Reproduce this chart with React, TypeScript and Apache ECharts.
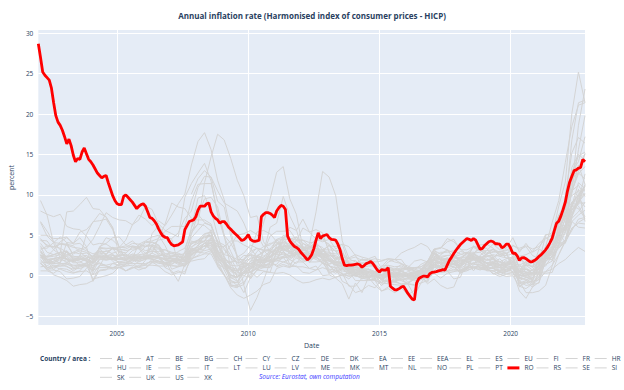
import React, { useEffect, useRef } from 'react';
import * as echarts from 'echarts';

const TITLE = 'Annual inflation rate (Harmonised index of consumer prices - HICP)';
const SOURCE = 'Source: Eurostat, own computation';
const LEGEND_TITLE = 'Country / area :';
const X_NAME = 'Date';
const Y_NAME = 'percent';
const X_TICKS = [2005, 2010, 2015, 2020];
const Y_TICKS = [-5, 0, 5, 10, 15, 20, 25, 30];

const COUNTRIES = ['AL', 'AT', 'BE', 'BG', 'CH', 'CY', 'CZ', 'DE', 'DK', 'EA', 'EE', 'EEA', 'EL', 'ES', 'EU', 'FI', 'FR', 'HR',
  'HU', 'IE', 'IS', 'IT', 'LT', 'LU', 'LV', 'ME', 'MK', 'MT', 'NL', 'NO', 'PL', 'PT', 'RO', 'RS', 'SE', 'SI',
  'SK', 'UK', 'US', 'XK'];

// Romania, monthly, Jan 2002 .. Nov 2022
const RO = [
  28.7, 27.0, 25.2, 24.8, 24.5, 24.2, 23.2, 21.4, 19.8, 19.0, 18.6, 18.0,
  17.2, 16.3, 16.9, 16.1, 14.9, 14.1, 14.5, 14.4, 15.3, 15.8, 15.1, 14.4,
  14.1, 13.7, 13.2, 12.7, 12.4, 12.1, 12.3, 12.4, 11.5, 10.7, 9.9, 9.3,
  8.9, 8.8, 8.8, 9.8, 10.0, 9.7, 9.4, 9.1, 8.7, 8.3, 8.6, 8.8,
  8.9, 8.6, 7.9, 7.2, 7.1, 6.8, 6.4, 5.8, 5.3, 4.9, 4.75, 4.7,
  4.2, 3.85, 3.7, 3.75, 3.8, 4.0, 4.2, 5.7, 6.2, 6.7, 6.8, 6.9,
  7.3, 8.1, 8.6, 8.6, 8.6, 8.9, 9.0, 7.9, 7.4, 7.1, 6.9, 6.5,
  6.7, 6.7, 6.4, 6.0, 5.75, 5.45, 5.2, 4.95, 4.65, 4.35, 4.45, 4.7,
  5.1, 4.5, 4.3, 4.25, 4.3, 4.4, 7.3, 7.6, 7.8, 7.8, 7.7, 7.5,
  7.2, 8.0, 8.4, 8.7, 8.6, 8.2, 4.9, 4.3, 3.95, 3.65, 3.5, 3.3,
  2.9, 2.6, 2.3, 1.95, 2.2, 2.6, 3.35, 4.4, 5.3, 4.6, 4.9, 5.0,
  5.1, 4.7, 4.5, 4.45, 4.4, 3.9, 3.2, 2.1, 1.3, 1.25, 1.3, 1.3,
  1.35, 1.4, 1.45, 1.35, 1.05, 1.25, 1.5, 1.6, 1.75, 1.5, 1.1, 0.7,
  0.45, 0.75, 0.7, 0.7, 1.0, -1.3, -1.55, -1.75, -1.75, -1.6, -1.4, -1.3,
  -1.75, -2.2, -2.55, -2.9, -3.0, -0.9, -0.35, -0.2, -0.05, -0.05, -0.15, 0.25,
  0.4, 0.45, 0.5, 0.6, 0.65, 0.75, 0.7, 1.3, 1.9, 2.3, 2.75, 3.15,
  3.5, 3.85, 4.1, 4.35, 4.6, 4.5, 4.35, 4.6, 4.4, 3.85, 3.3, 3.35,
  3.7, 3.95, 4.2, 4.3, 4.2, 3.95, 3.95, 3.9, 3.45, 3.6, 3.9, 3.9,
  3.4, 2.75, 2.8, 2.45, 1.9, 2.2, 2.25, 2.1, 1.9, 1.7, 1.75, 1.9,
  2.1, 2.4, 2.6, 2.9, 3.2, 3.6, 4.1, 4.65, 5.6, 6.5, 6.75, 7.4,
  8.2, 9.1, 10.5, 11.6, 12.3, 13.0, 13.1, 13.3, 13.4, 14.4, 14.1,
];

const _ = null;
// Other countries, quarterly (Feb, May, Aug, Nov), 2002 .. 2022
const AL = [
  _, _, _, _, _, _, _, _, _, _, _, _, _, _, _, _, _, _, _, _, _, _, _, _,
  4.4, 4.2, 3.0, 2.2, 1.7, 1.6, 2.3, 2.8, 3.8, 3.4, 3.2, 3.1, 3.9, 4.1, 3.0, 2.2,
  2.1, 2.0, 2.6, 2.6, 2.6, 2.0, 2.1, 1.4, 1.5, 2.0, 2.0, 1.7, 1.8, 2.1, 2.0, 2.0,
  0.9, 0.7, 1.4, 1.8, 2.4, 2.0, 2.1, 1.8, 2.1, 1.7, 2.0, 1.8, 1.2, 1.5, 1.3, 1.3,
  1.0, 2.2, 1.2, 1.6, 1.6, 2.2, 2.3, 3.6, 4.2, 6.7, 7.5, 8.1,
];
const AT = [
  1.7, 1.6, 1.5, 1.6, 1.1, 0.8, 1.2, 1.3, 1.5, 2.3, 2.0, 2.5, 2.4, 2.1, 2.0, 1.5,
  1.5, 1.8, 1.8, 1.5, 1.7, 1.9, 1.7, 3.2, 3.1, 3.7, 3.7, 2.3, 1.4, 0.1, -0.2, 0.6,
  1.1, 1.9, 1.9, 1.9, 3.1, 3.7, 3.6, 3.6, 2.6, 2.1, 2.4, 2.8, 2.5, 2.3, 2.1, 1.6,
  1.5, 1.6, 1.6, 1.4, 0.8, 1.0, 0.9, 0.8, 0.9, 0.6, 0.6, 1.3, 2.2, 2.1, 2.1, 2.3,
  1.9, 2.0, 2.1, 2.3, 1.5, 1.7, 1.3, 1.1, 2.4, 0.6, 1.4, 1.1, 1.4, 2.8, 3.2, 4.1,
  5.5, 7.7, 9.3, 11.2,
];
const BE = [
  2.6, 1.0, 1.3, 1.2, 1.4, 1.2, 1.4, 1.5, 1.0, 2.1, 1.9, 2.1, 2.6, 2.5, 2.6, 2.3,
  2.5, 2.5, 2.2, 1.6, 1.8, 1.4, 1.2, 3.1, 3.6, 5.1, 5.4, 3.2, 2.0, -0.2, -0.7, 0.3,
  0.8, 2.3, 2.3, 2.8, 3.5, 3.2, 3.4, 3.8, 3.3, 2.7, 2.6, 2.3, 1.2, 1.0, 1.2, 0.9,
  1.0, 0.8, 0.4, 0.2, -0.4, 0.6, 0.8, 1.4, 1.0, 1.8, 2.0, 1.7, 3.3, 1.9, 2.0, 2.0,
  1.5, 2.3, 2.8, 2.9, 2.2, 1.4, 1.0, 0.5, 1.1, 0.4, 1.0, 0.3, 0.3, 2.3, 4.7, 7.1,
  9.5, 9.9, 10.5, 10.5,
];
const BG = [
  6.7, 5.5, 4.2, 3.2, 2.3, 1.7, 2.4, 5.1, 6.7, 6.8, 7.0, 5.7, 3.5, 4.4, 6.3, 6.9,
  8.6, 8.2, 6.4, 5.6, 5.2, 4.8, 9.7, 11.4, 12.7, 13.9, 11.7, 7.5, 4.8, 3.0, 1.3, 1.0,
  1.7, 3.0, 3.6, 3.8, 4.5, 3.4, 3.0, 2.4, 2.0, 1.8, 2.9, 2.8, 2.1, 1.0, -0.7, -1.1,
  -2.1, -1.8, -1.2, -1.5, -0.5, -0.8, -0.8, -1.0, -1.0, -2.5, -0.9, -0.6, 1.4, 1.2, 1.1, 1.8,
  1.8, 2.1, 3.7, 3.1, 2.6, 3.3, 2.6, 2.5, 2.7, 1.1, 1.3, 0.7, 0.8, 2.4, 2.8, 6.3,
  8.4, 13.4, 15.0, 14.3,
];
const CH = [
  0.6, 0.6, 0.3, 0.9, 0.8, 0.4, 0.5, 0.6, 0.1, 0.6, 0.7, 1.5, 1.3, 0.6, 1.0, 1.1,
  1.3, 1.3, 1.2, 0.5, 0.1, 0.4, 0.5, 2.1, 2.4, 2.7, 2.7, 1.2, 0.0, -0.6, -1.2, -0.1,
  0.9, 0.7, 0.6, 0.4, 0.3, 0.4, 0.1, -0.5, -0.9, -0.8, -0.5, -0.3, -0.5, -0.2, 0.1, 0.0,
  0.0, 0.3, 0.0, 0.0, -0.9, -1.0, -1.1, -1.2, -1.0, -0.4, -0.2, 0.0, 0.6, 0.4, 0.5, 0.8,
  0.6, 0.9, 1.1, 0.9, 0.7, 0.6, 0.2, -0.1, 0.0, -1.3, -0.9, -0.7, -0.5, 0.5, 0.8, 1.5,
  2.0, 2.8, 3.5, 3.0,
];
const CY = [
  2.2, 2.4, 3.2, 4.2, 4.7, 4.0, 4.7, 3.6, 0.5, 2.0, 2.2, 2.1, 2.5, 2.7, 2.1, 2.2,
  2.1, 2.8, 2.4, 1.4, 1.5, 1.8, 2.4, 3.4, 4.4, 5.2, 5.4, 2.9, 1.4, 0.1, -0.2, 1.2,
  2.2, 2.3, 3.1, 2.3, 3.5, 3.6, 3.6, 3.3, 3.1, 3.6, 4.0, 2.0, 1.5, 1.6, 0.3, -1.3,
  -1.3, -0.3, 0.0, -0.6, -1.9, -1.6, -2.1, -1.5, -2.4, -1.8, -0.1, -0.8, 1.1, 0.6, 0.6, -0.4,
  -0.2, 1.8, 0.6, 1.7, 0.6, 0.6, 0.7, 1.0, 0.5, -1.9, -2.8, -1.4, -0.8, 2.1, 3.1, 4.4,
  5.8, 8.8, 9.6, 8.5,
];
const CZ = [
  3.7, 1.9, 0.7, 0.5, -0.4, -0.3, -0.1, 0.9, 2.0, 2.6, 3.1, 2.7, 1.4, 1.2, 1.7, 2.2,
  2.4, 2.3, 2.4, 1.0, 1.7, 2.4, 2.3, 5.1, 7.6, 6.6, 6.2, 4.1, 1.3, 0.9, -0.1, 0.3,
  0.4, 0.9, 1.6, 1.9, 1.9, 1.7, 2.0, 2.6, 4.0, 3.6, 3.4, 2.7, 1.8, 1.3, 1.3, 0.8,
  0.3, 0.4, 0.8, 0.5, 0.1, 0.5, 0.3, 0.1, 0.5, 0.3, 0.6, 1.8, 2.6, 2.4, 2.5, 2.6,
  1.7, 2.1, 2.4, 2.0, 2.7, 3.0, 2.9, 3.1, 3.8, 3.2, 3.6, 2.5, 2.1, 2.8, 3.4, 5.1,
  10.0, 15.2, 17.1, 16.4,
];
const DE = [
  2.0, 1.0, 1.1, 1.2, 1.2, 0.6, 1.1, 1.3, 0.9, 2.1, 2.0, 2.0, 1.7, 1.6, 1.9, 2.1,
  2.1, 2.1, 1.8, 1.5, 1.9, 2.0, 2.0, 3.3, 3.0, 3.1, 3.3, 1.4, 1.0, 0.0, -0.1, 0.3,
  0.5, 1.2, 1.0, 1.6, 2.2, 2.4, 2.5, 2.8, 2.5, 2.2, 2.2, 1.9, 1.8, 1.6, 1.6, 1.6,
  1.0, 0.6, 0.8, 0.5, 0.0, 0.7, 0.1, 0.3, -0.2, 0.0, 0.3, 0.7, 2.2, 1.4, 1.8, 1.8,
  1.2, 2.2, 1.9, 2.2, 1.5, 1.3, 1.0, 1.2, 1.7, 0.5, -0.1, -0.7, 1.6, 2.4, 3.4, 6.0,
  5.5, 8.7, 8.8, 11.3,
];
const DK = [
  2.5, 2.3, 2.4, 2.6, 2.9, 1.9, 1.8, 1.2, 0.7, 1.0, 1.0, 1.0, 1.0, 1.4, 2.2, 1.7,
  2.1, 2.1, 1.8, 1.6, 1.8, 1.6, 1.1, 2.3, 3.1, 3.7, 4.5, 3.0, 1.7, 1.0, 0.8, 1.0,
  1.8, 2.0, 2.1, 2.5, 2.8, 2.9, 2.4, 2.6, 2.8, 2.2, 2.5, 2.2, 0.8, 0.7, 0.2, 0.3,
  0.6, 0.4, 0.5, 0.4, 0.5, 0.8, 0.5, 0.3, 0.0, 0.0, 0.3, 0.3, 1.4, 1.1, 1.4, 1.5,
  0.6, 1.0, 1.0, 0.7, 1.0, 0.2, 0.5, 0.8, 0.5, 0.0, 0.1, 0.2, 0.6, 1.4, 1.8, 3.8,
  5.3, 7.4, 9.9, 11.1,
];
const EA = [
  2.5, 2.0, 2.1, 2.3, 2.1, 1.8, 2.1, 2.2, 1.6, 2.5, 2.3, 2.2, 2.1, 2.0, 2.2, 2.3,
  2.3, 2.5, 2.3, 1.9, 1.8, 1.9, 1.7, 3.1, 3.3, 3.7, 3.8, 2.1, 1.2, 0.0, -0.2, 0.5,
  0.9, 1.6, 1.6, 1.9, 2.4, 2.7, 2.5, 3.0, 2.7, 2.4, 2.6, 2.2, 1.8, 1.4, 1.3, 0.8,
  0.7, 0.5, 0.4, 0.3, -0.1, 0.3, 0.1, 0.2, -0.2, -0.1, 0.2, 0.6, 2.0, 1.4, 1.5, 1.5,
  1.1, 1.9, 2.0, 1.9, 1.5, 1.2, 1.0, 1.0, 1.2, 0.1, -0.2, -0.3, 0.9, 2.0, 3.0, 4.9,
  5.9, 8.1, 9.1, 10.1,
];
const EE = [
  4.4, 4.3, 3.2, 2.6, 2.1, 0.9, 0.9, 1.2, 0.6, 3.6, 4.0, 4.7, 4.8, 3.8, 4.3, 3.6,
  4.2, 4.3, 4.6, 5.5, 6.1, 6.1, 6.1, 9.3, 11.3, 11.4, 11.4, 7.8, 5.0, 0.9, -0.7, -2.1,
  -0.2, 2.5, 2.9, 4.9, 5.5, 5.5, 5.6, 4.4, 4.4, 4.1, 4.1, 3.2, 3.7, 3.6, 3.9, 1.6,
  0.5, 0.9, -0.3, 0.1, -0.5, 0.1, 0.1, 0.1, 0.2, 0.3, 0.8, 1.8, 3.3, 3.4, 4.2, 4.5,
  3.2, 3.2, 3.6, 3.4, 2.4, 2.5, 1.7, 1.4, 2.4, -1.3, -1.6, -1.0, 0.3, 2.8, 5.0, 8.6,
  11.6, 20.1, 25.2, 21.4,
];
const EEA = [
  2.3, 2.0, 2.1, 2.3, 2.0, 1.8, 2.0, 2.1, 1.6, 2.4, 2.2, 2.2, 2.1, 2.0, 2.3, 2.3,
  2.3, 2.5, 2.3, 2.1, 2.1, 2.0, 1.9, 3.3, 3.5, 4.0, 4.0, 2.7, 1.8, 0.8, 0.6, 1.1,
  1.5, 2.0, 1.9, 2.3, 2.9, 3.2, 2.9, 3.2, 2.9, 2.6, 2.7, 2.4, 2.0, 1.6, 1.5, 0.9,
  0.8, 0.6, 0.5, 0.4, 0.0, 0.4, 0.2, 0.2, 0.0, 0.0, 0.4, 0.7, 2.0, 1.6, 1.7, 1.8,
  1.5, 2.0, 2.1, 2.0, 1.6, 1.6, 1.4, 1.3, 1.6, 0.6, 0.5, 0.3, 1.3, 2.3, 3.2, 5.2,
  6.1, 8.7, 10.0, 11.0,
];
const EL = [
  4.4, 3.8, 3.6, 3.9, 3.8, 3.5, 3.4, 3.1, 2.7, 3.0, 3.0, 3.3, 3.2, 3.3, 3.7, 3.5,
  3.1, 3.3, 3.3, 3.2, 2.7, 2.6, 2.7, 3.9, 4.4, 4.9, 4.8, 3.0, 1.5, 0.7, 0.6, 2.1,
  3.0, 5.4, 5.6, 5.2, 4.2, 3.1, 1.4, 2.2, 1.7, 0.9, 1.2, 0.0, 0.1, -0.3, -1.0, -2.9,
  -0.9, -2.1, -0.2, -1.2, -1.9, -1.4, -0.2, -0.1, 0.1, 0.2, 0.2, -0.4, 1.4, 1.6, 0.6, 1.1,
  0.4, 0.6, 1.0, 1.1, 0.8, 0.6, 0.1, 0.5, 0.4, -0.7, -2.1, -2.1, -1.9, -1.2, 1.2, 4.0,
  6.3, 10.5, 11.2, 9.8,
];
const ES = [
  3.2, 3.7, 3.5, 3.9, 3.8, 2.7, 3.1, 2.9, 2.2, 3.4, 3.3, 3.5, 3.3, 3.1, 3.3, 3.4,
  4.1, 4.1, 3.8, 2.7, 2.5, 2.4, 2.2, 4.1, 4.4, 4.7, 4.9, 2.4, 0.7, -0.9, -0.8, 0.4,
  0.9, 1.8, 1.6, 2.2, 3.4, 3.5, 2.7, 2.9, 1.9, 1.9, 2.7, 3.0, 2.9, 1.8, 1.6, 0.3,
  0.1, 0.2, -0.5, -0.5, -1.2, -0.3, -0.5, -0.4, -1.0, -1.1, -0.3, 0.5, 3.0, 2.0, 2.0, 1.8,
  1.2, 2.1, 2.2, 1.7, 1.1, 0.9, 0.4, 0.5, 0.9, -0.9, -0.6, -0.8, -0.1, 2.4, 3.3, 5.5,
  7.6, 8.5, 10.7, 6.7,
];
const EU = [
  2.3, 2.0, 2.1, 2.3, 2.0, 1.8, 2.0, 2.1, 1.7, 2.4, 2.2, 2.2, 2.1, 2.0, 2.3, 2.3,
  2.3, 2.5, 2.3, 2.1, 2.1, 2.0, 1.9, 3.3, 3.5, 4.0, 4.0, 2.7, 1.8, 0.7, 0.6, 1.0,
  1.5, 2.0, 1.9, 2.3, 2.9, 3.2, 2.9, 3.3, 2.9, 2.6, 2.7, 2.4, 2.0, 1.6, 1.5, 0.9,
  0.8, 0.6, 0.4, 0.3, -0.1, 0.3, 0.1, 0.1, -0.1, -0.1, 0.3, 0.6, 2.0, 1.6, 1.7, 1.8,
  1.5, 2.0, 2.1, 2.0, 1.6, 1.6, 1.4, 1.3, 1.6, 0.6, 0.4, 0.3, 1.3, 2.3, 3.2, 5.2,
  6.2, 8.8, 10.1, 11.1,
];
const FI = [
  2.6, 1.6, 2.1, 1.5, 1.5, 1.0, 1.3, 1.3, -0.4, -0.2, 0.0, 0.3, 1.1, 0.6, 1.1, 0.7,
  1.0, 1.7, 1.2, 1.2, 1.3, 1.1, 1.3, 1.9, 3.2, 4.0, 4.7, 3.8, 2.2, 1.3, 1.2, 1.5,
  1.5, 1.3, 1.2, 2.9, 3.1, 3.4, 3.5, 2.9, 3.2, 3.2, 3.0, 3.2, 2.5, 2.5, 2.0, 1.8,
  1.9, 1.0, 1.2, 1.2, -0.1, -0.1, -0.1, -0.2, -0.1, 0.3, 0.4, 0.8, 1.4, 0.8, 0.6, 0.6,
  0.6, 1.1, 1.5, 1.3, 1.1, 1.5, 1.2, 0.7, 1.1, -0.1, 0.4, 0.2, 1.2, 2.4, 1.9, 3.8,
  4.4, 7.1, 7.9, 9.1,
];
const FR = [
  2.3, 1.5, 1.8, 2.2, 2.5, 1.8, 2.0, 2.5, 1.9, 2.8, 2.3, 2.2, 1.6, 1.7, 2.0, 1.8,
  2.0, 2.4, 2.1, 1.6, 1.2, 1.2, 1.3, 2.6, 3.2, 3.7, 3.5, 1.9, 1.0, -0.3, -0.2, 0.5,
  1.4, 1.9, 1.6, 1.8, 1.8, 2.2, 2.4, 2.7, 2.5, 2.3, 2.4, 1.6, 1.2, 0.9, 1.0, 0.8,
  1.1, 0.8, 0.5, 0.4, -0.3, 0.3, 0.1, 0.1, -0.1, 0.1, 0.4, 0.7, 1.4, 0.9, 1.0, 1.2,
  1.3, 2.3, 2.6, 2.2, 1.6, 1.1, 1.3, 1.2, 1.6, 0.4, 0.2, 0.2, 0.8, 1.8, 2.4, 3.4,
  4.2, 5.8, 6.6, 7.1,
];
const HR = [
  3.1, 2.0, 1.6, 2.0, 1.8, 1.9, 2.5, 2.0, 1.5, 2.3, 2.3, 2.8, 3.0, 2.8, 3.5, 3.6,
  3.8, 3.6, 3.4, 2.0, 1.8, 2.1, 2.8, 4.7, 5.6, 6.5, 6.2, 4.2, 3.8, 2.5, 1.6, 1.6,
  1.1, 0.9, 1.2, 1.4, 2.1, 2.3, 2.2, 2.6, 1.9, 3.8, 4.5, 4.4, 3.9, 2.1, 2.4, 0.6,
  0.3, -0.1, -0.3, 0.1, -0.5, 0.0, -0.3, -0.6, -1.0, -1.2, -0.9, 0.3, 1.3, 1.2, 1.4, 1.4,
  1.1, 1.7, 1.4, 1.4, 0.8, 1.0, 1.0, 0.6, 1.2, -0.3, 0.0, -0.2, 0.5, 2.1, 3.1, 5.0,
  6.3, 10.5, 12.6, 13.5,
];
const HU = [
  6.6, 4.9, 4.1, 4.8, 4.1, 4.0, 5.4, 5.7, 6.6, 7.7, 7.3, 5.9, 3.5, 3.7, 3.6, 3.3,
  2.4, 2.8, 4.7, 6.4, 9.0, 8.5, 8.3, 7.1, 6.9, 6.9, 6.4, 4.0, 2.6, 3.8, 5.0, 5.2,
  5.6, 5.1, 3.6, 4.0, 4.1, 3.9, 3.4, 4.3, 5.9, 5.4, 5.7, 5.3, 2.9, 1.8, 1.6, 0.9,
  0.1, -0.2, 0.3, -0.5, -0.9, 0.6, 0.2, 0.7, 0.1, -0.3, 0.0, 1.1, 2.9, 2.2, 2.5, 2.5,
  2.0, 2.8, 3.5, 3.1, 3.1, 3.9, 3.2, 3.4, 4.7, 2.9, 4.0, 2.9, 3.4, 5.1, 5.0, 7.5,
  8.4, 10.8, 18.6, 23.1,
];
const IE = [
  5.0, 5.0, 4.6, 4.6, 4.8, 3.9, 4.0, 3.3, 2.1, 2.4, 2.3, 2.5, 2.0, 2.0, 2.5, 1.9,
  2.8, 3.0, 3.0, 3.2, 2.9, 2.8, 2.4, 3.3, 3.3, 3.7, 3.3, 1.8, 0.1, -1.5, -2.4, -2.8,
  -2.4, -1.9, -1.1, -0.8, 0.9, 1.2, 1.0, 1.7, 1.7, 1.9, 2.3, 1.5, 1.3, 0.5, 0.0, 0.3,
  0.1, 0.4, 0.5, -0.1, -0.3, 0.2, 0.2, -0.1, 0.1, -0.2, -0.2, -0.4, 0.3, -0.3, 0.3, 0.5,
  0.7, 0.7, 0.9, 0.8, 0.7, 1.0, 0.6, 0.8, 1.1, -0.6, -1.2, -1.1, -0.4, 1.7, 3.0, 5.4,
  5.7, 8.3, 9.0, 9.0,
];
const IS = [
  9.3, 7.5, 4.0, 2.2, 1.6, 2.0, 1.2, 1.6, 2.5, 2.9, 2.6, 1.8, 1.0, 1.2, 1.3, 1.0,
  1.9, 5.2, 6.2, 4.9, 4.5, 1.5, 2.3, 5.3, 6.4, 11.5, 14.7, 17.5, 16.8, 14.5, 11.8, 9.9,
  7.2, 7.4, 4.2, 3.0, 2.6, 4.5, 6.0, 5.6, 7.0, 5.4, 4.5, 4.2, 4.5, 3.3, 3.9, 3.6,
  2.5, 1.2, 1.8, 0.9, 0.8, 1.2, 0.7, 0.8, 1.0, 0.6, -0.2, -1.0, -0.4, -1.2, -1.6, -1.4,
  0.5, 0.8, 2.6, 3.8, 3.9, 3.4, 2.4, 2.2, 1.8, 2.4, 2.6, 3.0, 4.0, 4.7, 4.3, 4.1,
  4.0, 6.7, 6.0, 5.9,
];
const IT = [
  2.5, 2.4, 2.6, 2.9, 2.6, 2.9, 2.7, 2.8, 2.4, 2.3, 2.4, 2.0, 2.0, 2.3, 2.1, 2.4,
  2.2, 2.3, 2.3, 2.0, 2.1, 1.9, 1.7, 2.6, 3.1, 3.7, 4.2, 2.7, 1.6, 0.8, 0.1, 0.8,
  1.1, 1.6, 1.8, 1.9, 2.1, 3.0, 2.3, 3.7, 3.4, 3.5, 3.3, 2.6, 2.0, 1.3, 1.2, 0.6,
  0.4, 0.4, -0.2, 0.3, 0.1, 0.2, 0.4, 0.1, -0.2, -0.3, -0.1, 0.1, 1.6, 1.6, 1.4, 1.1,
  0.5, 1.0, 1.6, 1.7, 1.1, 0.9, 0.5, 0.2, 0.2, -0.3, -0.5, -0.3, 1.0, 1.2, 2.5, 4.0,
  6.2, 7.3, 9.1, 12.6,
];
const LT = [
  1.5, 0.9, 0.1, -0.2, -0.6, -1.3, -1.1, -1.0, -0.6, 1.2, 2.6, 3.4, 3.1, 2.4, 2.2, 2.8,
  3.6, 3.8, 4.4, 4.6, 4.6, 5.3, 7.1, 8.0, 10.9, 12.3, 12.2, 9.2, 8.5, 4.9, 2.2, 1.3,
  -0.4, 0.7, 1.7, 3.3, 3.0, 5.0, 4.6, 4.4, 3.6, 3.3, 3.4, 3.2, 2.1, 1.3, 0.6, 0.4,
  0.3, 0.4, 0.2, -0.4, -1.2, -0.5, -0.8, 0.9, 0.7, 0.5, 0.6, 1.7, 3.2, 3.4, 4.6, 4.2,
  3.3, 2.6, 2.2, 2.3, 2.4, 2.6, 2.4, 2.8, 3.1, 0.9, 0.8, 0.6, 1.3, 3.6, 6.6, 9.3,
  14.0, 18.5, 21.1, 21.4,
];
const LU = [
  2.6, 1.6, 2.1, 2.8, 3.1, 2.3, 2.4, 2.5, 2.0, 3.5, 3.4, 3.4, 3.5, 3.5, 4.0, 3.9,
  3.6, 3.8, 3.5, 2.2, 2.2, 2.1, 2.0, 3.6, 4.0, 4.9, 5.0, 2.4, 1.4, -0.6, -0.9, 1.4,
  2.7, 3.4, 2.4, 3.0, 4.0, 4.1, 3.7, 3.9, 3.2, 3.0, 2.9, 2.6, 2.0, 1.7, 1.7, 1.0,
  1.2, 0.9, 0.8, 0.4, -0.1, 0.3, 0.1, 0.6, -0.2, -0.1, 0.2, 1.4, 2.8, 1.9, 2.2, 1.8,
  1.2, 2.3, 2.3, 2.4, 2.0, 2.1, 1.0, 1.6, 2.2, -0.4, 0.4, -0.6, 2.7, 3.3, 3.5, 5.4,
  7.8, 9.1, 8.6, 7.3,
];
const LV = [
  2.5, 2.1, 1.6, 2.2, 2.4, 2.9, 3.3, 3.5, 4.5, 6.1, 7.8, 7.2, 6.9, 6.8, 6.3, 7.5,
  7.0, 6.2, 6.8, 6.2, 7.5, 8.9, 10.1, 13.7, 16.6, 17.7, 15.6, 11.8, 9.4, 5.5, 2.3, -1.2,
  -4.3, -2.7, -0.6, 1.7, 3.8, 4.7, 4.6, 4.0, 3.3, 2.4, 2.0, 1.6, 0.5, -0.2, 0.1, -0.4,
  0.3, 0.8, 0.8, 0.2, -0.5, 0.4, 0.0, -0.4, -0.4, -0.4, 0.3, 1.8, 3.1, 2.7, 3.2, 2.2,
  2.2, 2.2, 2.8, 3.3, 2.8, 3.3, 2.9, 2.2, 2.2, -0.3, -0.4, -0.9, -0.2, 2.6, 3.7, 7.4,
  8.8, 16.8, 21.4, 21.7,
];
const ME = [
  _, _, _, _, _, _, _, _, _, _, _, _, _, _, _, _, _, _, _, _, _, _, _, 6.0,
  7.4, 9.5, 9.7, 8.5, 5.0, 4.0, 2.5, 1.6, 0.5, -0.2, 0.5, 0.4, 3.0, 3.7, 3.6, 3.1,
  3.3, 3.4, 4.3, 5.1, 3.0, 2.2, 1.9, 0.5, -0.6, -0.6, -0.6, -0.4, 1.1, 2.0, 1.7, 1.5,
  0.7, -0.2, 0.0, 0.5, 1.6, 2.6, 3.1, 2.3, 3.0, 2.8, 2.4, 1.6, 1.0, 0.9, 0.4, 0.5,
  1.0, -1.0, -0.8, -1.4, 0.5, 2.8, 2.4, 4.5, 7.2, 12.9, 14.1, 17.2,
];
const MK = [
  _, _, _, _, _, _, _, _, _, _, _, _, _, _, _, _,
  2.6, 3.7, 3.7, 2.5, 0.8, 1.1, 3.0, 5.9, 9.6, 9.9, 8.0, 5.0, 2.3, -1.1, -1.4, -1.1,
  0.9, 1.4, 1.3, 2.9, 4.5, 4.8, 3.3, 2.7, 2.1, 2.7, 4.3, 4.6, 3.7, 3.0, 2.8, 1.5,
  0.0, -0.3, -0.5, -0.6, -0.9, -0.1, -0.1, 0.0, -0.8, -0.4, -0.3, 0.0, 0.6, 1.4, 1.7, 1.7,
  0.9, 1.4, 1.6, 1.0, 1.0, 1.5, 0.4, 0.5, 1.0, 0.5, 1.4, 2.0, 1.8, 3.1, 3.9, 4.5,
  8.7, 10.5, 15.6, 19.8,
];
const MT = [
  2.9, 2.3, 2.6, 2.9, 2.1, 1.6, 1.6, 2.2, 2.4, 3.4, 2.5, 2.0, 2.9, 2.3, 3.1, 3.4,
  2.8, 3.1, 2.7, 1.0, 0.6, -0.7, 1.4, 2.8, 3.8, 4.3, 5.7, 4.3, 3.4, 2.2, 0.6, 1.0,
  0.9, 1.3, 3.0, 3.1, 2.6, 2.7, 2.0, 1.5, 2.5, 2.7, 3.7, 2.5, 0.4, 0.6, 0.9, 0.1,
  0.8, 0.4, 0.6, 0.5, 1.2, 1.3, 1.1, 1.2, 0.8, 1.0, 0.9, 0.9, 1.0, 1.1, 1.3, 1.4,
  1.3, 1.6, 2.0, 1.6, 1.2, 1.7, 0.6, 1.1, 1.0, 0.7, 0.8, 0.3, 0.1, 0.3, 0.4, 2.6,
  4.2, 5.6, 7.0, 7.2,
];
const NL = [
  4.6, 3.6, 3.6, 3.4, 2.9, 2.2, 2.1, 1.8, 1.2, 1.6, 1.2, 1.0, 1.3, 1.5, 1.5, 1.5,
  1.4, 1.8, 1.7, 1.4, 1.4, 1.9, 1.3, 1.8, 2.0, 2.1, 3.0, 1.9, 1.9, 1.7, -0.1, 0.5,
  0.4, 0.9, 1.4, 1.3, 1.4, 2.4, 2.8, 2.6, 2.9, 2.5, 2.3, 3.2, 3.2, 3.1, 3.1, 1.2,
  0.4, 0.0, 0.5, 0.3, -0.4, 1.0, 0.4, 0.5, 0.2, -0.3, -0.1, 0.6, 1.7, 0.8, 1.5, 1.5,
  1.3, 1.9, 2.1, 1.8, 2.6, 2.2, 3.0, 2.8, 1.3, 1.4, 0.3, 0.7, 1.9, 2.0, 2.7, 5.9,
  7.3, 10.2, 13.7, 11.3,
];
const NO = [
  1.6, 0.7, 0.7, 1.7, 4.1, 2.4, 2.3, 1.9, -0.7, 0.7, 0.8, 0.9, 1.5, 1.4, 1.9, 1.9,
  2.3, 2.0, 2.2, 2.0, 0.3, 0.6, 0.2, 2.7, 3.2, 3.3, 4.2, 3.7, 2.6, 2.4, 2.0, 2.0,
  2.7, 2.3, 1.8, 2.0, 1.1, 1.4, 1.1, 1.2, 0.4, 0.3, 0.7, 1.6, 1.3, 2.1, 2.3, 2.1,
  2.3, 1.9, 1.9, 2.1, 1.9, 2.1, 2.0, 2.8, 3.2, 3.5, 4.0, 3.6, 2.4, 2.2, 1.5, 1.4,
  2.3, 2.3, 3.6, 3.5, 3.4, 2.3, 1.3, 1.9, 0.8, 1.3, 1.7, 1.0, 3.3, 2.8, 3.1, 5.3,
  4.1, 5.9, 6.5, 6.4,
];
const PL = [
  3.1, 1.9, 1.2, 0.8, 0.5, 0.3, 0.6, 1.6, 1.7, 3.4, 4.7, 4.4, 3.6, 1.9, 1.6, 1.0,
  0.9, 1.6, 1.6, 1.3, 2.0, 2.3, 2.2, 4.0, 4.2, 4.3, 4.4, 3.6, 3.6, 4.3, 4.3, 3.8,
  3.4, 2.3, 2.0, 2.7, 3.3, 4.4, 3.6, 4.4, 4.4, 3.6, 3.8, 2.7, 1.2, 0.5, 0.9, 0.6,
  0.7, 0.3, -0.1, -0.1, -0.5, -0.8, -0.7, -0.5, -0.4, -0.4, -0.2, 0.5, 2.2, 1.9, 1.6, 1.5,
  0.7, 1.2, 1.1, 1.2, 1.2, 2.3, 2.6, 2.5, 3.7, 3.4, 3.7, 3.3, 3.6, 4.6, 5.0, 7.5,
  8.1, 12.8, 14.8, 15.3,
];
const PT = [
  3.4, 3.4, 4.1, 4.0, 3.9, 3.7, 2.9, 2.3, 2.1, 2.4, 2.5, 2.6, 2.1, 1.9, 2.4, 2.6,
  2.7, 3.7, 2.5, 2.5, 2.4, 2.4, 1.9, 2.8, 2.9, 2.8, 3.1, 1.4, 0.1, -1.2, -1.2, -0.8,
  0.2, 1.1, 2.0, 2.2, 3.5, 3.7, 3.0, 3.8, 3.6, 2.7, 3.2, 1.9, 0.2, 0.9, 0.2, -0.1,
  0.1, -0.4, -0.2, 0.1, 0.1, 0.9, 0.7, 0.6, 0.2, 0.4, 0.7, 0.5, 1.6, 1.7, 1.3, 1.8,
  0.7, 1.0, 2.2, 0.9, 0.9, 0.3, -0.1, 0.2, 0.4, -0.6, -0.2, -0.5, 0.3, 0.5, 1.3, 2.6,
  4.4, 8.1, 9.3, 10.2,
];
const RS = [
  _, _, _, _, _, _, _, _, _, _, _, _, _, _, _, _, _, _, _, _, _, _, _, 10.1,
  12.0, 13.0, 12.2, 10.5, 9.0, 8.5, 8.0, 6.5, 4.5, 4.3, 6.5, 9.5, 12.8, 13.5, 9.5, 7.6,
  3.4, 3.9, 7.9, 12.9, 12.2, 9.9, 4.3, 2.2, 2.6, 2.3, 2.1, 2.4, 0.8, 1.7, 2.0, 1.5,
  1.2, 0.8, 0.6, 1.5, 3.3, 3.5, 3.2, 2.8, 1.6, 2.2, 2.5, 1.8, 2.4, 2.2, 1.2, 1.4,
  1.8, 0.6, 1.8, 2.0, 1.5, 3.6, 4.3, 7.5, 8.8, 10.4, 12.9, 15.1,
];
const SE = [
  2.9, 1.7, 1.5, 1.6, 3.0, 2.0, 2.0, 1.9, 0.2, 1.3, 1.2, 0.8, 1.0, 0.6, 0.9, 1.3,
  1.3, 2.0, 1.5, 1.5, 1.8, 1.6, 1.5, 3.0, 3.1, 3.7, 4.0, 2.4, 2.0, 1.7, 1.8, 2.5,
  2.5, 1.9, 1.1, 1.7, 1.2, 1.7, 1.4, 1.1, 1.1, 0.9, 0.7, 1.0, 0.7, 0.3, 0.8, 0.4,
  0.1, 0.1, 0.3, 0.5, 0.5, 0.5, 0.7, 1.0, 0.8, 0.9, 1.1, 1.6, 1.9, 1.7, 2.2, 1.7,
  1.9, 2.0, 2.3, 2.1, 1.9, 2.2, 1.4, 1.7, 1.3, 0.0, 0.8, 0.3, 1.8, 1.8, 2.4, 3.6,
  4.4, 7.3, 9.8, 10.1,
];
const SI = [
  8.0, 7.6, 7.3, 7.6, 6.1, 5.8, 5.7, 4.9, 3.8, 4.0, 3.9, 3.4, 2.3, 2.1, 2.7, 2.5,
  2.3, 3.7, 2.8, 2.4, 2.3, 3.0, 3.4, 5.6, 6.4, 6.2, 5.5, 3.1, 1.6, 0.5, 0.3, 1.7,
  1.2, 2.5, 2.2, 1.6, 2.0, 2.3, 1.1, 2.8, 2.8, 2.4, 3.1, 2.6, 2.4, 1.6, 2.2, 1.2,
  0.4, 0.5, 0.1, 0.1, -0.5, -0.7, -0.6, -1.1, -0.9, -0.4, 0.2, 0.6, 2.0, 1.0, 1.5, 1.0,
  1.0, 2.2, 2.3, 2.0, 1.3, 1.6, 2.1, 1.3, 2.0, -1.4, -0.6, -1.1, -0.9, 2.2, 2.0, 5.0,
  7.0, 8.7, 11.5, 10.8,
];
const SK = [
  4.0, 2.9, 2.6, 2.8, 7.9, 8.0, 8.8, 9.7, 8.3, 8.2, 7.2, 6.0, 2.5, 2.6, 2.2, 3.9,
  4.3, 4.8, 5.0, 3.7, 2.0, 1.7, 1.2, 2.5, 3.2, 4.0, 4.4, 3.9, 2.4, 1.1, 0.5, 0.0,
  -0.2, 0.7, 1.0, 1.0, 3.0, 4.2, 3.9, 4.8, 4.0, 3.4, 3.8, 3.5, 2.2, 1.7, 1.4, 0.4,
  -0.1, -0.1, -0.1, -0.1, -0.3, -0.1, -0.2, -0.5, -0.3, -0.6, -0.5, 0.0, 1.2, 0.9, 1.6, 2.3,
  2.6, 2.9, 2.9, 2.1, 2.7, 2.9, 3.0, 3.2, 3.1, 2.2, 1.5, 1.6, 0.9, 2.0, 3.3, 5.1,
  8.3, 11.8, 13.4, 15.1,
];
const UK = [
  1.5, 0.8, 1.0, 1.4, 1.6, 1.3, 1.3, 1.3, 1.3, 1.5, 1.3, 1.5, 1.7, 1.9, 2.4, 2.1,
  2.1, 2.2, 2.5, 2.7, 2.8, 2.5, 1.8, 2.1, 2.5, 3.3, 4.7, 4.1, 3.2, 2.2, 1.6, 1.9,
  3.0, 3.4, 3.1, 3.3, 4.4, 4.5, 4.5, 4.8, 3.4, 2.8, 2.5, 2.7, 2.8, 2.7, 2.7, 2.1,
  1.7, 1.5, 1.5, 1.0, 0.0, 0.1, 0.0, 0.1, 0.3, 0.3, 0.6, 1.2, 2.3, 2.9, 2.9, 3.1,
  2.7, 2.4, 2.7, 2.3, 1.9, 2.0, 1.7, 1.5, 1.7, 0.5, 0.2, 0.3, 0.4, 2.1, 3.2, 5.1,
  6.2, 9.1, 9.9, 10.7,
];
const US = [
  1.1, 1.2, 1.8, 2.2, 3.0, 2.1, 2.2, 1.8, 1.7, 3.1, 2.7, 3.5, 3.0, 2.8, 3.6, 3.5,
  3.6, 4.2, 3.8, 2.0, 2.4, 2.7, 2.0, 4.3, 4.0, 4.2, 5.4, 1.1, 0.2, -1.3, -1.5, 1.8,
  2.1, 2.0, 1.1, 1.1, 2.1, 3.6, 3.8, 3.4, 2.9, 1.7, 1.7, 1.8, 2.0, 1.4, 1.5, 1.2,
  1.1, 2.1, 1.7, 1.3, 0.0, 0.0, 0.2, 0.5, 1.0, 1.0, 1.1, 1.7, 2.7, 1.9, 1.9, 2.2,
  2.2, 2.8, 2.7, 2.2, 1.5, 1.8, 1.7, 2.1, 2.3, 0.1, 1.3, 1.2, 1.7, 5.0, 5.3, 6.8,
  7.9, 8.6, 8.3, 7.1,
];
const XK = [
  _, _, _, _, _, _, _, _, _, _, _, _, _, _, _, _, _, _, _, _, _, _, _, _, _, _, _, _, _, _, _, _,
  2.5, 2.4, 2.9, 6.0, 6.5, 9.8, 7.4, 5.7, 2.9, 1.6, 2.6, 3.0, 3.8, 3.0, 1.9, 0.5,
  0.4, 0.3, 0.5, -0.3, -0.8, -0.5, -0.7, -0.3, 0.1, 0.2, 0.5, 0.9, 2.3, 1.6, 1.3, 1.1,
  0.3, 0.8, 1.3, 2.5, 3.1, 3.2, 2.7, 2.8, 0.8, 0.1, 0.0, 0.0, 0.9, 3.6, 4.4, 6.4,
  6.1, 12.0, 12.7, 12.0,
];

const GRAY: Record<string, (number | null)[]> = {
  AL, AT, BE, BG, CH, CY, CZ, DE, DK, EA, EE, EEA, EL, ES, EU, FI, FR, HR,
  HU, IE, IS, IT, LT, LU, LV, ME, MK, MT, NL, NO, PL, PT, RS, SE, SI, SK, UK, US, XK,
};

const START_YEAR = 2002;
const monthX = (k: number) => START_YEAR + k / 12;
const quarterX = (i: number) => START_YEAR + Math.floor(i / 4) + (1 + 3 * (i % 4)) / 12;

const FONT = '"Open Sans", "Noto Sans", sans-serif';
const INK = '#2a3f5f';
const GRAY_COLOR = '#d4d4d4';
const RED = '#ff0000';

const minus = (v: number) => (v < 0 ? '\u2212' + Math.abs(v) : String(v));

export default function App() {
  const ref = useRef<HTMLDivElement>(null);

  useEffect(() => {
    if (!ref.current) return;
    const chart = echarts.init(ref.current, undefined, { renderer: 'svg' });

    const graySeries = COUNTRIES.filter((c) => c !== 'RO').map((c) => ({
      name: c,
      type: 'line',
      data: GRAY[c].map((v, i) => [quarterX(i), v]),
      symbol: 'none',
      showSymbol: false,
      silent: true,
      lineStyle: { color: GRAY_COLOR, width: 1 },
      itemStyle: { color: GRAY_COLOR },
      emphasis: { disabled: true },
      z: 2,
    }));
    const redSeries = {
      name: 'RO',
      type: 'line',
      data: RO.map((v, k) => [monthX(k), v]),
      symbol: 'none',
      showSymbol: false,
      silent: true,
      lineStyle: { color: RED, width: 2.8 },
      itemStyle: { color: RED },
      emphasis: { disabled: true },
      z: 3,
    };

    const legends = COUNTRIES.map((c, i) => ({
      data: [c],
      left: 100 + (i % 18) * 29.1,
      top: 354.5 + Math.floor(i / 18) * 9.4,
      orient: 'horizontal',
      icon: 'rect',
      itemWidth: 12,
      itemHeight: c === 'RO' ? 3 : 1,
      padding: 0,
      selectedMode: false,
      textStyle: { fontSize: 6.5, color: INK, fontFamily: FONT, lineHeight: 8 },
    }));

    const lastX = monthX(RO.length - 1);

    chart.setOption({
      animation: false,
      backgroundColor: '#ffffff',
      textStyle: { fontFamily: FONT },
      title: [
        {
          text: TITLE,
          left: 'center',
          top: 6,
          textStyle: { fontSize: 8, fontWeight: 'bold', color: INK, fontFamily: FONT },
        },
        {
          text: SOURCE,
          left: 259,
          top: 373,
          padding: 0,
          textStyle: { fontSize: 6.5, fontWeight: 'normal', fontStyle: 'italic', color: '#3a3aff', fontFamily: FONT },
        },
      ],
      graphic: [
        {
          type: 'text',
          left: 40,
          top: 354.5,
          style: { text: LEGEND_TITLE, font: 'bold 6.5px ' + FONT, fill: INK },
        },
      ],
      grid: {
        left: 38,
        right: 39,
        top: 30,
        bottom: 65,
        show: true,
        backgroundColor: '#E5ECF6',
        borderWidth: 0,
      },
      xAxis: {
        type: 'value',
        min: START_YEAR,
        max: lastX,
        name: X_NAME,
        nameLocation: 'middle',
        nameGap: 15,
        nameTextStyle: { fontSize: 7, color: INK, fontFamily: FONT },
        axisLine: { show: false },
        axisTick: { show: false, customValues: X_TICKS },
        axisLabel: { customValues: X_TICKS, fontSize: 6.5, color: INK, margin: 5, formatter: (v: number) => String(v) },
        splitLine: { show: true, lineStyle: { color: '#ffffff', width: 1 } },
      },
      yAxis: {
        type: 'value',
        min: -6.1,
        max: 30.4,
        name: Y_NAME,
        nameLocation: 'middle',
        nameGap: 21,
        nameTextStyle: { fontSize: 7, color: INK, fontFamily: FONT },
        axisLine: { show: false },
        axisTick: { show: false, customValues: Y_TICKS },
        axisLabel: { customValues: Y_TICKS, fontSize: 6.5, color: INK, margin: 5, formatter: minus },
        splitLine: { show: true, lineStyle: { color: '#ffffff', width: 1 } },
      },
      legend: legends,
      series: [...graySeries, redSeries],
    });

    return () => chart.dispose();
  }, []);

  return <div ref={ref} style={{ position: 'fixed', left: 0, top: 0, width: 624, height: 390 }} />;
}
